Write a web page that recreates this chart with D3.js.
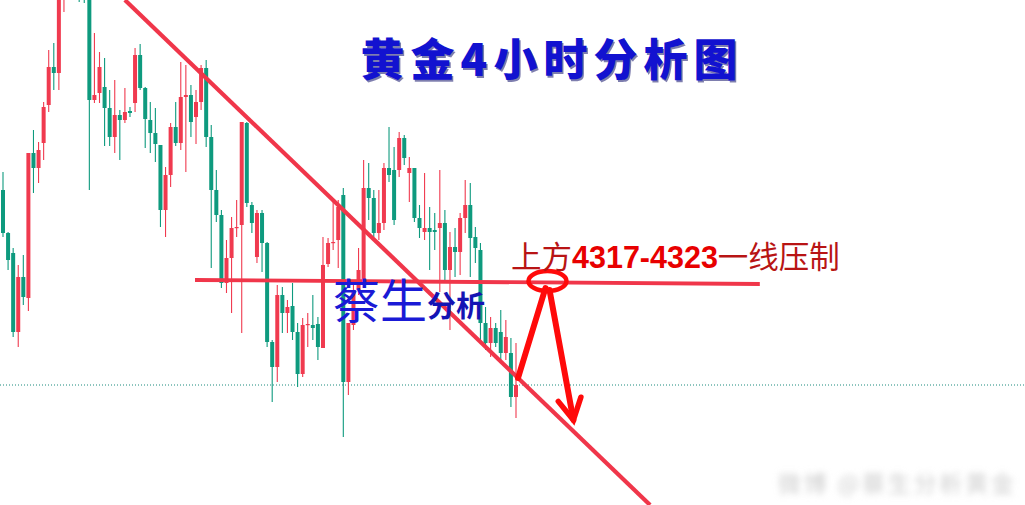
<!DOCTYPE html>
<html><head><meta charset="utf-8">
<script src="https://cdn.jsdelivr.net/npm/d3@7/dist/d3.min.js"></script>
<style>html,body{margin:0;padding:0;background:#fff;overflow:hidden}svg{display:block}</style>
</head><body>
<script>
// ---- data (gold, 4h candles) ----
const opens  = [4365,4343.5,4333.5,4294,4321.5,4311,4383.5,4376,4388.5,4407.5,4426.5,4423.5,4470,4495,4470,4505,4485,4465,4410,4413.5,4416.5,4406,4391.5,4402.5,4400,4404.5,4408.5,4432.5,4416,4400,4393.5,4387.5,4355,4372.5,4396.5,4388.5,4411.5,4412.5,4401.5,4409,4426,4391.5,4365,4352.5,4318.5,4331,4346,4347.5,4398.5,4357.5,4331.5,4353.5,4338.5,4289,4276.5,4312.5,4303.5,4307,4294,4273,4297.5,4297.5,4298,4286,4328,4338.5,4340,4362.5,4269,4297.5,4315,4320,4366,4361,4343.5,4348.5,4376,4375,4375,4391,4373.5,4376,4351,4344,4346,4345,4346,4348.5,4325,4336.5,4334,4351,4357.5,4341.5,4335,4298.5,4288.5,4296,4294,4283.5,4283.5,4261.5];
const highs  = [4374,4344,4336,4327.5,4332.5,4383.5,4395,4389,4409,4435,4438.5,4480,4495,4500,4505,4510,4500,4475,4443.5,4434,4431,4415,4420,4405,4416,4406.5,4436,4438,4416.5,4409,4406,4387.5,4376.5,4398.5,4409,4429,4427.5,4417.5,4415,4427.5,4430,4397.5,4375,4355,4340,4351.5,4360,4399,4399,4359,4355,4355,4339,4290,4317.5,4316.5,4310,4318.5,4298.5,4301,4303.5,4312.5,4301.5,4341.5,4341,4360,4360,4366,4298.5,4320,4336,4380,4378.5,4365,4365,4378.5,4396.5,4386.5,4394,4392.5,4381.5,4376,4357.5,4373.5,4356.5,4353.5,4375,4355,4344,4346,4353.5,4370,4368.5,4346.5,4338.5,4306.5,4301.5,4298.5,4305,4300,4291,4288.5];
const lows   = [4341.5,4325,4291.5,4286.5,4307.5,4304.5,4363.5,4368.5,4380,4404,4415,4415,4454,4475,4465,4459,4458.5,4365,4408.5,4408.5,4387,4387,4383.5,4380,4398.5,4401.5,4404,4415,4386,4383.5,4379,4346.5,4341.5,4366.5,4387,4385,4374,4391.5,4388,4405,4386.5,4326,4349,4316,4313.5,4303.5,4341.5,4293.5,4356.5,4343.5,4328.5,4324,4286.5,4259,4269,4293.5,4293.5,4290,4266.5,4271.5,4286.5,4290,4280,4286,4326.5,4335,4326,4241.5,4262.5,4295,4312.5,4317.5,4350,4341.5,4340,4345,4369,4347.5,4371.5,4377.5,4359,4349,4341,4340,4325,4335,4314,4320,4295,4321.5,4322.5,4343.5,4321.5,4328.5,4288.5,4285,4281.5,4286.5,4280,4280,4256.5,4251];
const closes = [4343.5,4330,4294,4321.5,4311.5,4383.5,4376,4385,4406.5,4426.5,4423.5,4472.5,4490,4480,4485,4485,4465,4410,4412.5,4426.5,4406,4391.5,4402.5,4400,4404,4403.5,4432.5,4416,4400.5,4393.5,4388,4355,4372.5,4396.5,4388.5,4411.5,4412.5,4399,4409,4426,4391.5,4365,4352.5,4318.5,4331,4346,4346.5,4399,4358.5,4348.5,4353.5,4338.5,4289,4276.5,4312.5,4303.5,4306.5,4294,4273,4297.5,4298,4296,4286.5,4327.5,4338.5,4339,4356.5,4269,4298.5,4315,4325,4366,4361,4343.5,4348.5,4376,4372.5,4350,4391,4381,4376,4351,4346,4346,4344,4344,4348.5,4325,4336.5,4334,4351,4357.5,4341,4336,4298.5,4288.5,4296,4288.5,4283.5,4291.5,4261.5,4267.5];
const lastPrice = 4267.5;
const resistanceLine = [{i: 37.8, p: 4320}, {i: 149, p: 4318}];
const trendLine = [{i: 24, p: 4460}, {i: 127.4, p: 4207.5}];
const upArrow = [{i: 101.4, p: 4271}, {i: 106.8, p: 4316}];
const downArrow = [{i: 107.6, p: 4315}, {i: 112.3, p: 4250}];
const zone = {i: 107.2, p: 4319.5};
const titleText = "黄金4小时分析图";
const noteParts = ["上方", "4317-4323", "一线压制"];
const authorBig = "蔡生", authorSmall = "分析";
const watermark = "微博 @蔡生分析黄金";

// ---- drawing ----
const W = 1025, H = 505;
const svg = d3.select("body").append("svg").attr("width", W).attr("height", H);
const x = d3.scaleLinear().domain([0, 101]).range([3, 516]);
const y = d3.scaleLinear().domain([4207.5, 4460]).range([505, 0]);
const UP = "#f03a4f", DOWN = "#0e9a7e";
const data = opens.map((o, i) => ({i, o, h: highs[i], l: lows[i], c: closes[i]}));

const defs = svg.append("defs");
defs.append("filter").attr("id", "blur").attr("x", "-10%").attr("y", "-50%").attr("width", "120%").attr("height", "200%")
  .append("feGaussianBlur").attr("stdDeviation", 3.2);

// current price dotted line
svg.append("line").attr("x1", 0).attr("x2", W).attr("y1", y(lastPrice)).attr("y2", y(lastPrice))
  .attr("stroke", "#1b8a7c").attr("stroke-width", 1).attr("stroke-dasharray", "1,2");

const g = svg.append("g");
const bw = 4;
const cg = g.selectAll("g.c").data(data).join("g").attr("class", "c")
  .attr("fill", d => d.c >= d.o ? UP : DOWN).attr("stroke", d => d.c >= d.o ? UP : DOWN);
cg.append("line").attr("x1", d => x(d.i)).attr("x2", d => x(d.i))
  .attr("y1", d => y(d.h)).attr("y2", d => y(d.l)).attr("stroke-width", 1.1);
cg.append("rect").attr("stroke", "none")
  .attr("x", d => x(d.i) - bw / 2).attr("width", bw)
  .attr("y", d => y(Math.max(d.o, d.c)))
  .attr("height", d => Math.max(1.2, Math.abs(y(d.o) - y(d.c))));

const line = d3.line().x(d => x(d.i)).y(d => y(d.p));
svg.append("path").attr("d", line(trendLine)).attr("stroke", "#f0364a").attr("stroke-width", 4.2).attr("fill", "none");
svg.append("path").attr("d", line(resistanceLine)).attr("stroke", "#f0364a").attr("stroke-width", 3.8).attr("fill", "none");

// arrows & zone
const RED = "#ff0a0a";
svg.append("ellipse").attr("cx", x(zone.i)).attr("cy", y(zone.p)).attr("rx", 19).attr("ry", 10)
  .attr("fill", "none").attr("stroke", RED).attr("stroke-width", 4.5);
svg.append("path").attr("d", line(upArrow)).attr("stroke", RED).attr("stroke-width", 6).attr("fill", "none").attr("stroke-linecap", "round");
svg.append("path").attr("d", line(downArrow)).attr("stroke", RED).attr("stroke-width", 6).attr("fill", "none").attr("stroke-linecap", "round");
{
  const tx = x(downArrow[1].i), ty = y(downArrow[1].p);
  const fx = x(downArrow[0].i), fy = y(downArrow[0].p);
  const ang = Math.atan2(ty - fy, tx - fx), len = 24, spread = 0.5;
  const p1 = [tx - len * Math.cos(ang - spread), ty - len * Math.sin(ang - spread)];
  const p2 = [tx - len * Math.cos(ang + spread), ty - len * Math.sin(ang + spread)];
  svg.append("path").attr("d", `M${p1}L${tx},${ty}L${p2}`).attr("stroke", RED).attr("stroke-width", 5.5)
    .attr("fill", "none").attr("stroke-linejoin", "miter").attr("stroke-linecap", "round");
}

const CJK = "'Noto Sans CJK SC','Noto Sans',sans-serif";
// title
const title = svg.append("g");
title.append("text").attr("x", 552).attr("y", 76).attr("text-anchor", "middle")
  .attr("font-family", CJK).attr("font-weight", 900).attr("font-size", 44).attr("letter-spacing", 6)
  .attr("fill", "#000060").attr("opacity", 0.5).attr("transform", "translate(1.5,1.5)").text(titleText);
title.append("text").attr("x", 552).attr("y", 76).attr("text-anchor", "middle")
  .attr("font-family", CJK).attr("font-weight", 900).attr("font-size", 44).attr("letter-spacing", 6)
  .attr("fill", "#1212d0").text(titleText);

// note
const note = svg.append("text").attr("x", 511).attr("y", 268).attr("font-family", CJK).attr("font-size", 30.5);
note.append("tspan").attr("fill", "#b81414").text(noteParts[0]);
note.append("tspan").attr("fill", "#e80000").attr("font-weight", 700).attr("font-family", "'Liberation Sans',Arial,sans-serif")
  .attr("font-size", 30.5).text(noteParts[1]);
note.append("tspan").attr("fill", "#b81414").text(noteParts[2]);

// author
const au = svg.append("text").attr("x", 333).attr("y", 318).attr("font-family", CJK);
au.append("tspan").attr("font-size", 47).attr("fill", "#1a1ad6").text(authorBig);
au.append("tspan").attr("font-size", 29).attr("font-weight", 700).attr("fill", "#1414b4").attr("dy", -1).text(authorSmall);

// watermark
svg.append("text").attr("x", 778).attr("y", 492).attr("font-family", CJK).attr("font-size", 23)
  .attr("fill", "#cfcfcf").attr("filter", "url(#blur)").attr("textLength", 236).text(watermark);
</script>
</body></html>
